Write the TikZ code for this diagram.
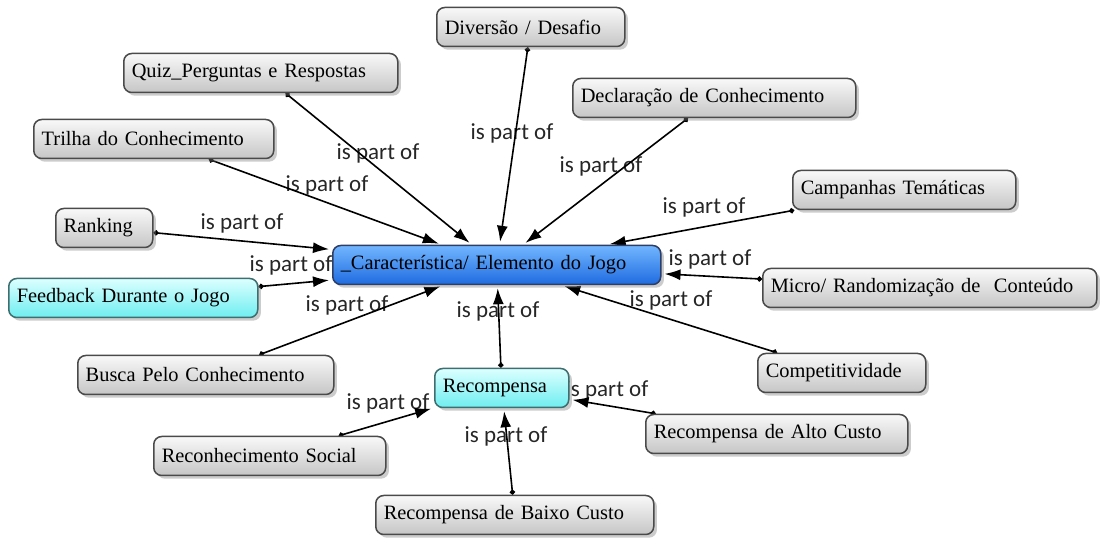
\documentclass[tikz,border=0pt]{standalone}
\usepackage{fontspec}
\setmainfont{Liberation Serif}
\newfontfamily\conceptfont{Liberation Serif}
\newfontfamily\labelfont{Carlito}
\usetikzlibrary{arrows.meta,shadows}
\pgfdeclarelayer{background}
\pgfsetlayers{background,main}
\definecolor{grayborder}{HTML}{4A4A4A}
\definecolor{blueborder}{HTML}{2E3E66}
\definecolor{bluetop}{HTML}{72B6FF}
\definecolor{bluebottom}{HTML}{1E6BE0}
\definecolor{cyanborder}{HTML}{3E6E70}
\definecolor{cyantop}{HTML}{DCFFFF}
\definecolor{cyanbottom}{HTML}{6EEEF0}
\tikzset{
  concept/.style={draw=grayborder, line width=0.75pt, rounded corners=4pt,
    top color=gray!5, bottom color=gray!45, minimum height=19.5pt,
    inner xsep=4pt, inner ysep=0pt, anchor=west, align=left,
    font=\conceptfont\fontsize{10.2}{12}\selectfont, text=black,
    drop shadow={shadow xshift=1.6pt, shadow yshift=-1.6pt, opacity=0.4}},
  mainconcept/.style={concept, draw=blueborder, top color=bluetop, bottom color=bluebottom},
  subconcept/.style={concept, draw=cyanborder, top color=cyantop, bottom color=cyanbottom},
  link/.style={line width=0.8pt, draw=black,
    {Circle[length=2.6pt]}-{Latex[length=8pt,width=5.5pt]}, shorten >=1.5pt},
  linklabel/.style={font=\labelfont\fontsize{11.5}{13}\selectfont, inner sep=0pt, text=black!85}
}
\begin{document}
\begin{tikzpicture}[x=0.5pt,y=-0.5pt]
  \useasboundingbox (0,0) rectangle (1100,539);
  % concepts
  \node[concept, text width=86pt] (div) at (436,27) {Diversão / Desafio};
  \node[concept, text width=129pt] (quiz) at (123,73) {Quiz\_Perguntas e Respostas};
  \node[concept, text width=133.5pt] (decl) at (572,98) {Declaração de Conhecimento};
  \node[concept, text width=112pt] (trilha) at (33,139) {Trilha do Conhecimento};
  \node[concept, text width=103.5pt] (camp) at (792,190) {Campanhas Temáticas};
  \node[concept, text width=40.5pt] (rank) at (55,228) {Ranking};
  \node[mainconcept, text width=156pt] (carac) at (332,265) {\_Característica/ Elemento do Jogo};
  \node[subconcept, text width=116.5pt] (feed) at (8,298) {Feedback Durante o Jogo};
  \node[concept, text width=159pt] (micro) at (762,288) {Micro/ Randomização de~ Conteúdo};
  \node[concept, text width=120pt] (busca) at (77,375) {Busca Pelo Conhecimento};
  \node[concept, text width=76pt] (comp) at (757,373) {Competitividade};
  \node[subconcept, text width=59pt] (recomp) at (434,388) {Recompensa};
  \node[concept, text width=108pt] (recon) at (153,456) {Reconhecimento Social};
  \node[concept, text width=123pt] (alto) at (645,434) {Recompensa de Alto Custo};
  \node[concept, text width=131pt] (baixo) at (375,515) {Recompensa de Baixo Custo};
  % links and their labels, under the concepts
  \begin{pgfonlayer}{background}
    \node[linklabel] (lbdiv) at (512,133) {is part of};
    \node[linklabel] (lbquiz) at (378,153) {is part of};
    \node[linklabel] (lbdecl) at (601,166) {is part of};
    \node[linklabel] (lbtrilha) at (327,185) {is part of};
    \node[linklabel] (lbcamp) at (704,207) {is part of};
    \node[linklabel] (lbrank) at (242,223) {is part of};
    \node[linklabel] (lbfeed) at (291,265) {is part of};
    \node[linklabel] (lbmicro) at (710,259) {is part of};
    \node[linklabel] (lbbusca) at (347,305) {is part of};
    \node[linklabel] (lbcomp) at (671,300) {is part of};
    \node[linklabel] (lbrecomp) at (498,311) {is part of};
    \node[linklabel] (lbrecon) at (388,403) {is part of};
    \node[linklabel] (lbalto) at (607,390) {is part of};
    \node[linklabel] (lbbaixo) at (506,436) {is part of};
    \foreach \src in {div,quiz,decl,trilha,camp,rank,feed,micro,busca,comp,recomp}
      \draw[link] (\src) -- (carac);
    \foreach \src in {recon,alto,baixo}
      \draw[link] (\src) -- (recomp);
  \end{pgfonlayer}
\end{tikzpicture}
\end{document}
